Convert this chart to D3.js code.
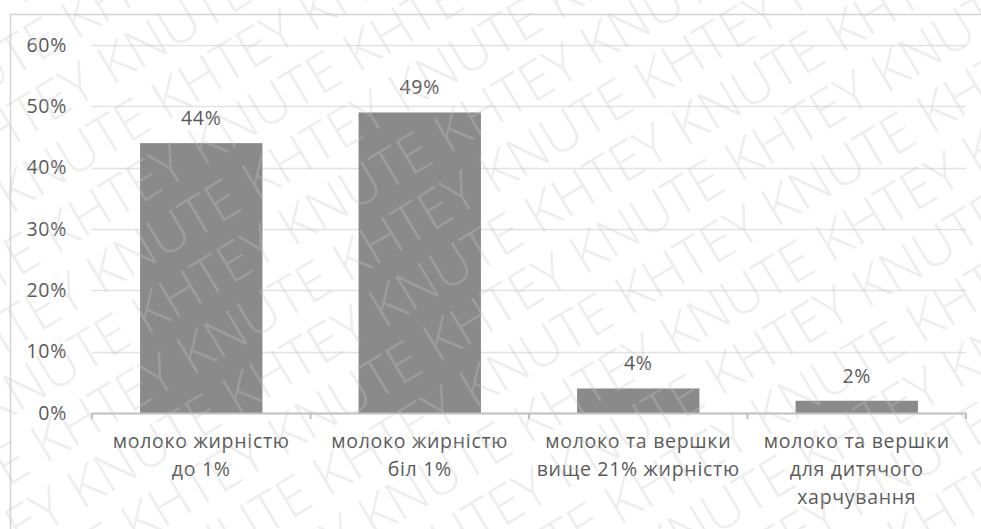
<!DOCTYPE html>
<html>
<head>
<meta charset="utf-8">
<script src="https://cdn.jsdelivr.net/npm/d3@7"></script>
<style>
  html, body { margin: 0; padding: 0; background: #fff; }
  svg { display: block; }
</style>
</head>
<body>
<svg id="chart" width="981" height="529"></svg>
<script>
// Milk product shares
const categories = [
  "молоко жирністю\nдо 1%",
  "молоко жирністю\nбіл 1%",
  "молоко та вершки\nвище 21% жирністю",
  "молоко та вершки\nдля дитячого\nхарчування"
];
const values = [0.44, 0.49, 0.04, 0.02];
const yTicks = [0, 0.1, 0.2, 0.3, 0.4, 0.5, 0.6];
const watermarkWords = ["KHTEY", "KNUTE"];

const W = 981, H = 529;
const plot = { left: 92, right: 966, top: 45, bottom: 413 };
const textColor = "#595959";
const font = "'Open Sans', 'Noto Sans', sans-serif";
const labelStyle = sel => sel.attr("fill", textColor)
  .style("font", `19.5px ${font}`).style("letter-spacing", "0.7px");

const svg = d3.select("#chart");

// chart frame
svg.append("line").attr("x1", 10.5).attr("x2", 10.5).attr("y1", 14).attr("y2", H)
  .attr("stroke", "#d4d4d4").attr("stroke-width", 1.5);
svg.append("line").attr("x1", 10).attr("x2", W).attr("y1", 14.5).attr("y2", 14.5)
  .attr("stroke", "#d4d4d4").attr("stroke-width", 1.5);

const x = d3.scaleBand().domain(categories).range([plot.left, plot.right])
  .paddingInner(0.44).paddingOuter(0.22);
const y = d3.scaleLinear().domain([0, 0.6]).range([plot.bottom, plot.top]);
const pct = d3.format(".0%");

// gridlines
svg.append("g").selectAll("line").data(yTicks.filter(d => d > 0)).join("line")
  .attr("x1", plot.left).attr("x2", plot.right)
  .attr("y1", d => Math.round(y(d)) + 0.5).attr("y2", d => Math.round(y(d)) + 0.5)
  .attr("stroke", "#e3e3e3").attr("stroke-width", 1.5);

// y labels
svg.append("g").selectAll("text").data(yTicks).join("text")
  .attr("x", 67).attr("y", d => y(d)).attr("dy", "0.35em")
  .attr("text-anchor", "end").call(labelStyle).text(d => pct(d));

// bars
svg.append("g").selectAll("rect").data(values).join("rect")
  .attr("x", (d, i) => x(categories[i])).attr("width", x.bandwidth())
  .attr("y", d => y(d)).attr("height", d => y(0) - y(d))
  .attr("fill", "#8a8a8a");

// value labels
svg.append("g").selectAll("text").data(values).join("text")
  .attr("x", (d, i) => x(categories[i]) + x.bandwidth() / 2)
  .attr("y", d => y(d) - 25).attr("dy", "0.35em")
  .attr("text-anchor", "middle").call(labelStyle).text(d => pct(d));

// x axis line with category boundary ticks
const bounds = d3.range(categories.length + 1)
  .map(i => plot.left + i * (plot.right - plot.left) / categories.length);
svg.append("line").attr("x1", plot.left).attr("x2", plot.right)
  .attr("y1", plot.bottom + 0.5).attr("y2", plot.bottom + 0.5)
  .attr("stroke", "#bfbfbf").attr("stroke-width", 2);
svg.append("g").selectAll("line").data(bounds).join("line")
  .attr("x1", d => d).attr("x2", d => d)
  .attr("y1", plot.bottom).attr("y2", plot.bottom + 6)
  .attr("stroke", "#bfbfbf").attr("stroke-width", 2);

// category labels
const cat = svg.append("g").selectAll("text").data(categories).join("text")
  .attr("text-anchor", "middle").call(labelStyle);
cat.each(function(d) {
  const t = d3.select(this);
  const cx = x(d) + x.bandwidth() / 2;
  d.split("\n").forEach((line, k) => {
    t.append("tspan").attr("x", cx).attr("y", 441 + k * 28).attr("dy", "0.35em").text(line);
  });
});

// diagonal watermark
const wm = svg.append("g").attr("pointer-events", "none")
  .attr("transform", `translate(${W / 2},${H / 2}) rotate(-31)`);
d3.range(-9, 10).forEach(r => {
  const first = ((r % 2) + 2) % 2;
  const words = d3.range(10).map(i => watermarkWords[(i + first) % 2]).join("  ");
  wm.append("text")
    .attr("x", -1000 + r * 18)
    .attr("y", r * 58)
    .attr("fill", "#c8c8c8").attr("fill-opacity", 0.3)
    .style("font", `300 54px 'Open Sans', 'Liberation Sans', sans-serif`)
    .text(words);
});
</script>
</body>
</html>
